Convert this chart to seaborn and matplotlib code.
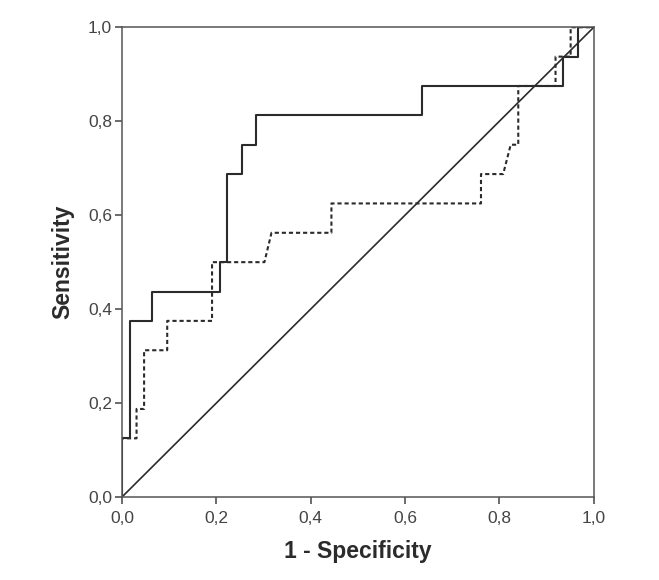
import numpy as np
import pandas as pd
import matplotlib.pyplot as plt
import seaborn as sns
from matplotlib.ticker import FuncFormatter

# ROC curve points (1 - specificity, sensitivity)
fpr_solid = [0.0, 0.0, 0.017, 0.017, 0.064, 0.064, 0.208, 0.208, 0.222, 0.222,
             0.255, 0.255, 0.285, 0.285, 0.635, 0.635, 0.935, 0.935, 0.967, 0.967, 1.0]
tpr_solid = [0.0, 0.125, 0.125, 0.375, 0.375, 0.4375, 0.4375, 0.5, 0.5, 0.6875,
             0.6875, 0.75, 0.75, 0.8125, 0.8125, 0.875, 0.875, 0.9375, 0.9375, 1.0, 1.0]

fpr_dashed = [0.0, 0.0, 0.031, 0.031, 0.047, 0.047, 0.096, 0.096, 0.191, 0.191,
              0.302, 0.317, 0.444, 0.444, 0.761, 0.761, 0.808, 0.824, 0.84, 0.84,
              0.919, 0.919, 0.951, 0.951, 1.0]
tpr_dashed = [0.0, 0.125, 0.125, 0.1875, 0.1875, 0.3125, 0.3125, 0.375, 0.375, 0.5,
              0.5, 0.5625, 0.5625, 0.625, 0.625, 0.6875, 0.6875, 0.75, 0.75, 0.875,
              0.875, 0.9375, 0.9375, 1.0, 1.0]

ref_line = [0.0, 1.0]
ticks = [0.0, 0.2, 0.4, 0.6, 0.8, 1.0]

sns.set_style('white')
plt.rcParams['font.family'] = ['Liberation Sans', 'DejaVu Sans']

fig = plt.figure(figsize=(6.59, 5.80), dpi=100)
ax = fig.add_axes([0.185, 0.143, 0.716, 0.810])

line_col = '#2b2b2b'
sns.lineplot(x=fpr_solid, y=tpr_solid, sort=False, estimator=None, ax=ax,
             color=line_col, linewidth=1.5)
sns.lineplot(x=fpr_dashed, y=tpr_dashed, sort=False, estimator=None, ax=ax,
             color=line_col, linewidth=1.5, linestyle=(0, (2, 1.4)))
sns.lineplot(x=ref_line, y=ref_line, sort=False, estimator=None, ax=ax,
             color=line_col, linewidth=1.2)

ax.set_xlim(0, 1)
ax.set_ylim(0, 1)
ax.set_xticks(ticks)
ax.set_yticks(ticks)
fmt = FuncFormatter(lambda v, p: f'{v:.1f}'.replace('.', ','))
ax.xaxis.set_major_formatter(fmt)
ax.yaxis.set_major_formatter(fmt)
ax.tick_params(axis='both', direction='out', length=5, width=1.1, color='#444444',
               labelsize=12.5, labelcolor='#444444', bottom=True, left=True)
ax.tick_params(axis='x', pad=5)
ax.tick_params(axis='y', pad=2)

for s in ax.spines.values():
    s.set_color('#555555')
    s.set_linewidth(1.1)

ax.set_xlabel('1 - Specificity', fontsize=16.5, fontweight='bold', color='#2b2b2b', labelpad=10)
ax.set_ylabel('Sensitivity', fontsize=16.5, fontweight='bold', color='#2b2b2b', labelpad=10)

fig.savefig('out.png', dpi=100)
